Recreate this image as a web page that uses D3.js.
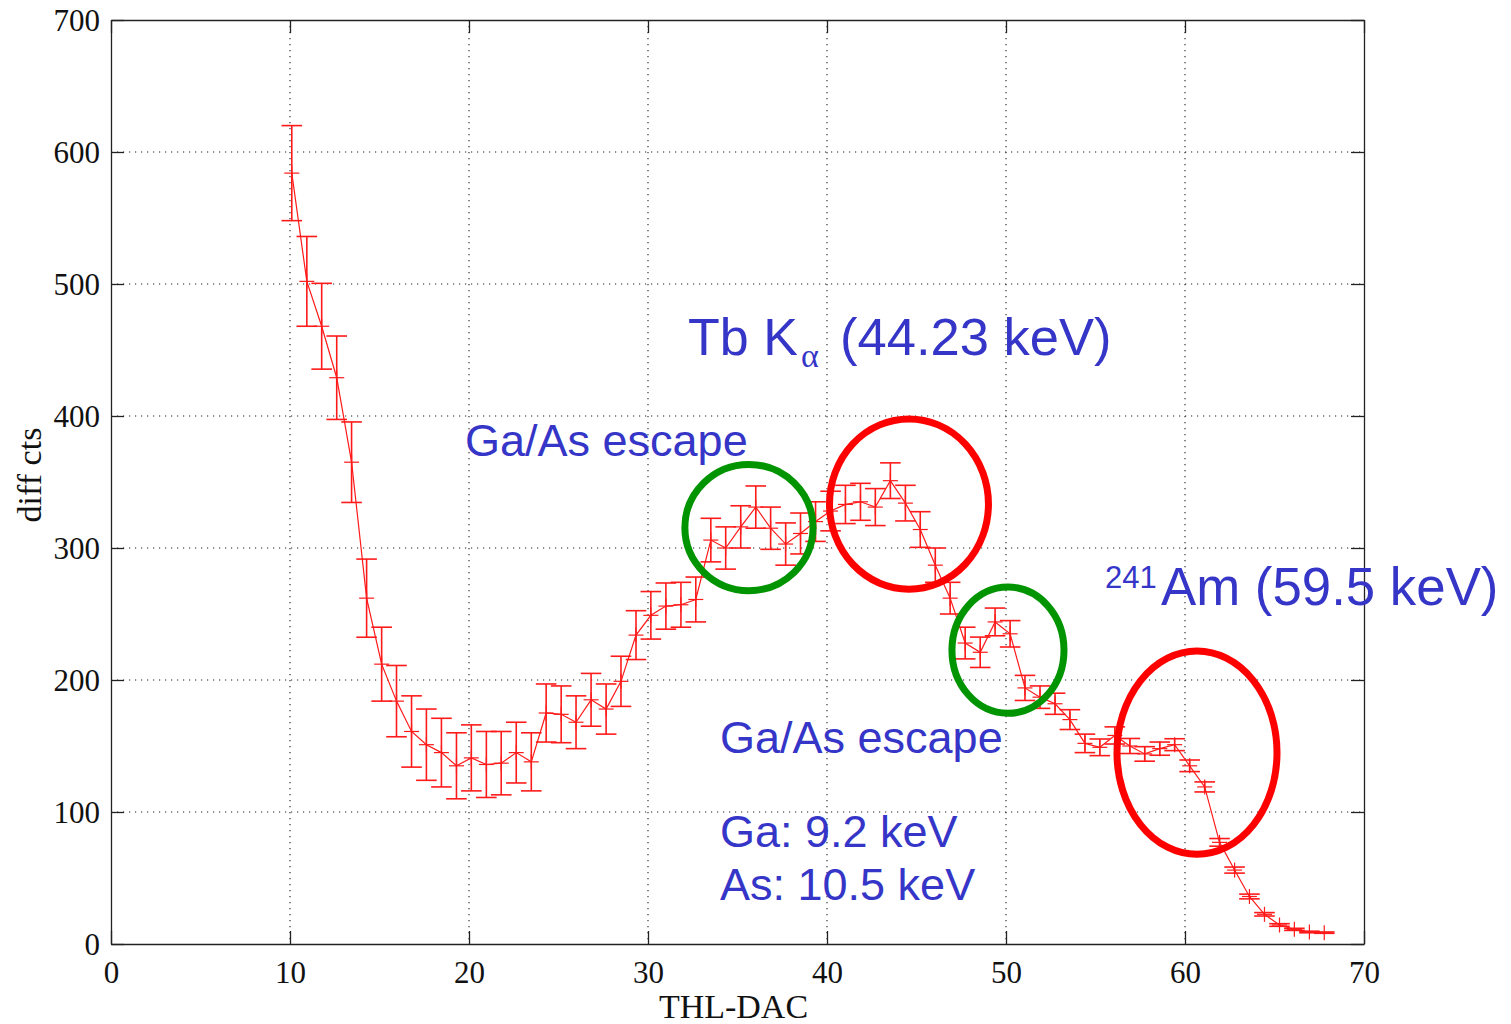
<!DOCTYPE html>
<html>
<head>
<meta charset="utf-8">
<script src="https://cdn.jsdelivr.net/npm/d3@7"></script>
<style>
  html, body { margin: 0; padding: 0; background: #fff; }
  svg { display: block; }
</style>
</head>
<body>
<svg id="chart" width="1511" height="1024"></svg>
<script>
// Threshold DAC settings of the scan
const thl = [10.10, 10.94, 11.77, 12.61, 13.44, 14.28, 15.12, 15.95, 16.79, 17.62,
             18.46, 19.30, 20.13, 20.97, 21.80, 22.64, 23.48, 24.31, 25.15, 25.98,
             26.82, 27.66, 28.49, 29.33, 30.16, 31.00, 31.84, 32.67, 33.51, 34.34,
             35.18, 36.02, 36.85, 37.69, 38.52, 39.36, 40.20, 41.03, 41.87, 42.70,
             43.54, 44.38, 45.21, 46.05, 46.88, 47.72, 48.56, 49.39, 50.23, 51.06,
             51.90, 52.74, 53.57, 54.41, 55.24, 56.08, 56.92, 57.75, 58.59, 59.42,
             60.26, 61.10, 61.93, 62.77, 63.60, 64.44, 65.28, 66.11, 66.95, 67.78];

// Differential counts per threshold step
const diffCts = [584, 502, 468, 429, 365, 262, 212, 184, 161, 151,
                 145, 135, 141, 136, 137, 145, 138, 175, 174, 168,
                 185, 178, 199, 234, 249, 256, 257, 261, 306, 300,
                 316, 331, 315, 303, 311, 320, 328, 333, 335, 331,
                 351, 334, 314, 287, 262, 228, 221, 244, 235, 194,
                 187, 182, 170, 152, 149, 158, 150, 144, 148, 151,
                 135, 119, 77, 56, 36, 22.5, 14.4, 11.1, 9.1, 8.6];

// Statistical uncertainty of each count
const ctsErr = [36, 34, 32.5, 31.6, 30.5, 29.6, 28, 27, 27, 27,
                26, 25, 25, 25, 24, 23, 22, 22, 21.5, 20,
                20, 19, 19, 18.5, 18, 17.5, 17, 17, 16.5, 16,
                16, 16, 16, 16, 15.5, 15, 15, 14.5, 14, 14,
                13.5, 13.5, 13.5, 13, 12, 12, 11.5, 10.5, 10, 9.5,
                8.5, 8, 7.5, 7, 6.3, 6.5, 5.7, 5.5, 5, 4.5,
                4.4, 3.8, 2.9, 2.3, 1.8, 1.3, 1, 0.8, 0.6, 0.5];

const xTicks = [0, 10, 20, 30, 40, 50, 60, 70];
const yTicks = [0, 100, 200, 300, 400, 500, 600, 700];

// Highlighted peak regions (centre and half-widths in data units)
const peakCx    = [35.64, 44.58, 50.11, 60.67];
const peakCy    = [315.5, 333.3, 222.6, 144.9];
const peakRx    = [3.58, 4.44, 3.13, 4.47];
const peakRy    = [47.8, 64.5, 47.8, 77.0];
const peakKind  = ["escape", "line", "escape", "line"];

const svg = d3.select("#chart");
const plotL = 111, plotR = 1364, plotT = 20, plotB = 944;

const x = d3.scaleLinear().domain([0, 70]).range([plotL, plotR]);
const y = d3.scaleLinear().domain([0, 700]).range([plotB, plotT]);

const serif = "'Liberation Serif', 'Times New Roman', serif";
const sans = "'Liberation Sans', Arial, sans-serif";
const blue = "#3535c8";

// dotted grid
const grid = svg.append("g");
grid.selectAll("line.gx").data(xTicks.slice(1, -1)).join("line")
  .attr("x1", d => x(d)).attr("x2", d => x(d))
  .attr("y1", plotT).attr("y2", plotB)
  .attr("stroke", "#222").attr("stroke-width", 1.1)
  .attr("stroke-dasharray", "1.2,4.8");
grid.selectAll("line.gy").data(yTicks.slice(1, -1)).join("line")
  .attr("y1", d => y(d)).attr("y2", d => y(d))
  .attr("x1", plotL).attr("x2", plotR)
  .attr("stroke", "#222").attr("stroke-width", 1.1)
  .attr("stroke-dasharray", "1.2,4.8");

// axes with inward ticks on all four sides
const tickLen = 13;
const axB = svg.append("g").attr("transform", `translate(0,${plotB})`)
  .call(d3.axisBottom(x).tickValues(xTicks).tickSizeInner(-tickLen).tickSizeOuter(0).tickPadding(16));
const axT = svg.append("g").attr("transform", `translate(0,${plotT})`)
  .call(d3.axisTop(x).tickValues(xTicks).tickSizeInner(-tickLen).tickSizeOuter(0).tickFormat(""));
const axL = svg.append("g").attr("transform", `translate(${plotL},0)`)
  .call(d3.axisLeft(y).tickValues(yTicks).tickSizeInner(-tickLen).tickSizeOuter(0).tickPadding(11));
const axR = svg.append("g").attr("transform", `translate(${plotR},0)`)
  .call(d3.axisRight(y).tickValues(yTicks).tickSizeInner(-tickLen).tickSizeOuter(0).tickFormat(""));

[axB, axT, axL, axR].forEach(g => {
  g.select(".domain").attr("stroke", "#222").attr("stroke-width", 1.3);
  g.selectAll(".tick line").attr("stroke", "#222").attr("stroke-width", 1.3);
  g.selectAll(".tick text").attr("fill", "#111")
    .style("font-family", serif).style("font-size", "31px");
});
axB.selectAll(".tick text").attr("dy", "0.75em");
axL.selectAll(".tick text").attr("dy", "0.34em");

// axis titles
svg.append("text")
  .attr("x", (plotL + plotR) / 2 - 4).attr("y", 1018)
  .attr("text-anchor", "middle")
  .style("font-family", serif).style("font-size", "34px").attr("fill", "#111")
  .text("THL-DAC");
svg.append("text")
  .attr("transform", "translate(41,475) rotate(-90)")
  .attr("text-anchor", "middle")
  .style("font-family", serif).style("font-size", "34px").attr("fill", "#111")
  .text("diff cts");

// data with error bars
const pts = thl.map((t, i) => ({ t, v: diffCts[i], e: ctsErr[i] }));
const red = "#ff1a1a";
const cap = (x(1.15) - x(0)) / 2;

svg.append("path")
  .datum(pts)
  .attr("fill", "none").attr("stroke", red).attr("stroke-width", 1.2)
  .attr("d", d3.line().x(d => x(d.t)).y(d => y(d.v)));

const eb = svg.append("g").attr("stroke", red).attr("stroke-width", 1.6).attr("fill", "none");
const bars = eb.selectAll("g").data(pts).join("g");
bars.append("line")
  .attr("x1", d => x(d.t)).attr("x2", d => x(d.t))
  .attr("y1", d => y(d.v + d.e)).attr("y2", d => y(d.v - d.e));
bars.append("line")
  .attr("x1", d => x(d.t) - cap).attr("x2", d => x(d.t) + cap)
  .attr("y1", d => y(d.v + d.e)).attr("y2", d => y(d.v + d.e));
bars.append("line")
  .attr("x1", d => x(d.t) - cap).attr("x2", d => x(d.t) + cap)
  .attr("y1", d => y(d.v - d.e)).attr("y2", d => y(d.v - d.e));
// '+' markers
bars.append("line")
  .attr("stroke-width", 1.2)
  .attr("x1", d => x(d.t) - 7.5).attr("x2", d => x(d.t) + 7.5)
  .attr("y1", d => y(d.v)).attr("y2", d => y(d.v));
bars.append("line")
  .attr("stroke-width", 1.2)
  .attr("x1", d => x(d.t)).attr("x2", d => x(d.t))
  .attr("y1", d => y(d.v) - 7.5).attr("y2", d => y(d.v) + 7.5);

// peak highlight ellipses
const peaks = peakCx.map((c, i) => ({ cx: c, cy: peakCy[i], rx: peakRx[i], ry: peakRy[i], kind: peakKind[i] }));
svg.append("g").selectAll("ellipse").data(peaks).join("ellipse")
  .attr("cx", d => x(d.cx)).attr("cy", d => y(d.cy))
  .attr("rx", d => x(d.rx) - x(0)).attr("ry", d => y(0) - y(d.ry))
  .attr("fill", "none")
  .attr("stroke", d => d.kind === "line" ? "#ff0000" : "#009400")
  .attr("stroke-width", 7);

// annotations
const ann = svg.append("g").attr("fill", blue).style("font-family", sans);

const tb = ann.append("text").attr("x", 688).attr("y", 355).style("font-size", "52px");
tb.append("tspan").text("Tb K");
tb.append("tspan").attr("x", 801).attr("y", 367)
  .style("font-family", serif).style("font-size", "34px").text("α");
tb.append("tspan").attr("x", 840).attr("y", 355).style("font-size", "52.5px").text("(44.23 keV)");

const am = ann.append("text").attr("x", 1105).attr("y", 588);
am.append("tspan").style("font-size", "31px").text("241");
am.append("tspan").attr("x", 1161).attr("y", 605).style("font-size", "52.8px").text("Am (59.5 keV)");

ann.append("text").attr("x", 465).attr("y", 456).style("font-size", "45px").text("Ga/As escape");
ann.append("text").attr("x", 720).attr("y", 753).style("font-size", "45px").text("Ga/As escape");
ann.append("text").attr("x", 720).attr("y", 847).style("font-size", "45px").text("Ga: 9.2 keV");
ann.append("text").attr("x", 720).attr("y", 900).style("font-size", "45px").text("As: 10.5 keV");
</script>
</body>
</html>
